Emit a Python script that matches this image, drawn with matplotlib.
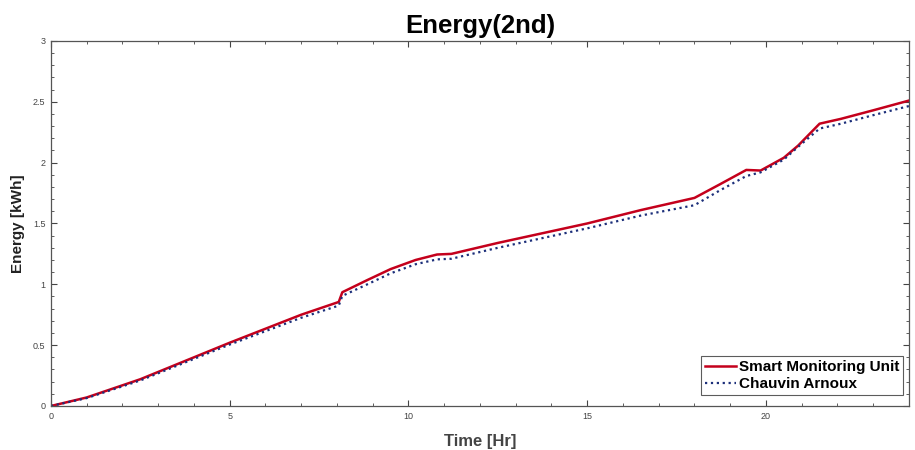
import numpy as np
import matplotlib
matplotlib.use("Agg")
import matplotlib.pyplot as plt
from matplotlib.ticker import MultipleLocator

plt.rcParams['font.family'] = ['Liberation Sans', 'DejaVu Sans']

# cumulative energy over the day, sampled at the break points of the curves
time_hr = [0, 1, 2.5, 5, 7, 8.05, 8.15, 8.85, 9.5, 10.2, 10.8, 11.2, 12.5,
           15, 16.5, 18, 18.7, 19.45, 19.85, 20.5, 20.9, 21.5, 22.1, 23, 24]
smart_unit = [0, 0.07, 0.22, 0.52, 0.75, 0.855, 0.935, 1.035, 1.125, 1.2,
              1.245, 1.25, 1.34, 1.5, 1.61, 1.71, 1.82, 1.94, 1.935, 2.04,
              2.14, 2.32, 2.36, 2.43, 2.51]
chauvin = [0, 0.065, 0.21, 0.505, 0.725, 0.825, 0.905, 1.0, 1.09, 1.165,
           1.205, 1.21, 1.30, 1.46, 1.565, 1.65, 1.77, 1.89, 1.92, 2.025,
           2.13, 2.28, 2.32, 2.39, 2.465]

fig = plt.figure(figsize=(9.15, 4.5), dpi=100)
ax = fig.add_axes([0.0557, 0.0978, 0.9377, 0.8112])

ax.plot(time_hr, smart_unit, color='#c4001c', lw=1.8, label='Smart Monitoring Unit')
ax.plot(time_hr, chauvin, color='#1c2f7a', lw=1.6, ls=':', label='Chauvin Arnoux')

ax.set_xlim(0, 24)
ax.set_ylim(0, 3)
ax.xaxis.set_major_locator(MultipleLocator(5))
ax.xaxis.set_minor_locator(MultipleLocator(1))
ax.yaxis.set_major_locator(MultipleLocator(0.5))
ax.yaxis.set_minor_locator(MultipleLocator(0.1))
ax.xaxis.set_major_formatter(lambda v, p: '%g' % v)
ax.yaxis.set_major_formatter(lambda v, p: '%g' % v)

ax.tick_params(which='both', direction='in', top=True, right=True,
               colors='#444444', labelsize=6.5, pad=4)
ax.tick_params(which='major', length=4, width=0.8)
ax.tick_params(which='minor', length=2.5, width=0.6)
for s in ax.spines.values():
    s.set_color('#555555')
    s.set_linewidth(0.9)

ax.set_title('Energy(2nd)', fontsize=18.5, fontweight='bold', pad=6)
ax.set_xlabel('Time [Hr]', fontsize=12, fontweight='bold', color='#444444', labelpad=10)
ax.set_ylabel('Energy [kWh]', fontsize=11, fontweight='bold', color='#222222', labelpad=6)

leg = ax.legend(loc='lower right', bbox_to_anchor=(0.993, 0.03), fontsize=11,
                frameon=True, fancybox=False, edgecolor='#333333',
                handlelength=2.0, handletextpad=0.2, borderpad=0.25,
                labelspacing=0.2, borderaxespad=0.0)
leg.get_frame().set_linewidth(0.8)
for t in leg.get_texts():
    t.set_fontweight('bold')

fig.savefig('out.png', dpi=100)
